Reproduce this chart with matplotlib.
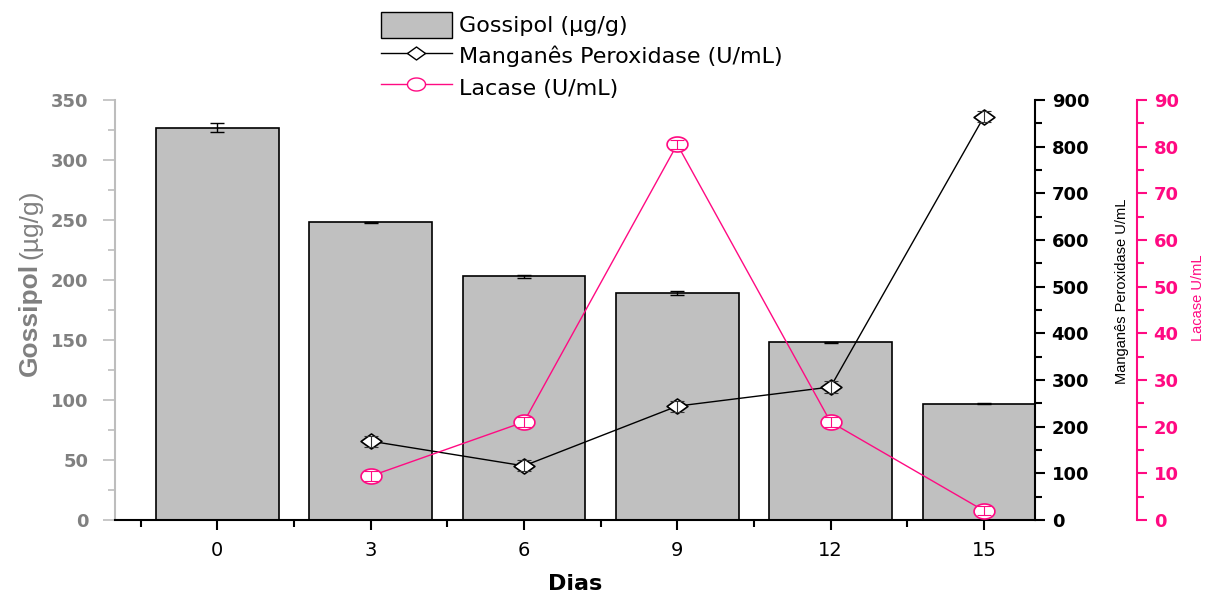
import matplotlib
matplotlib.use("Agg")
import matplotlib.pyplot as plt
from matplotlib.path import Path
from matplotlib.patches import Patch
from matplotlib.lines import Line2D
import numpy as np

# ---- data ----
dias = [0, 3, 6, 9, 12, 15]
gossipol = [327, 248, 203, 189, 148, 97]
gossipol_err = [3.5, 0.6, 1.0, 1.8, 0.6, 0.6]

dias_enz = [3, 6, 9, 12, 15]
mnp = [169, 116, 244, 285, 864]
mnp_err = [12, 12, 12, 12, 12]
lacase = [9.4, 21.0, 80.5, 21.0, 2.0]
lacase_err = [1.0, 1.0, 1.0, 1.0, 1.0]

x_ticks = [0, 3, 6, 9, 12, 15]
x_label = "Dias"
legend_labels = ["Gossipol (µg/g)", "Manganês Peroxidase (U/mL)", "Lacase (U/mL)"]

PINK = "#FF0A82"
GRAY_TXT = "#808080"
BAR = "#C0C0C0"
NARROW = ["Liberation Sans Narrow", "Liberation Sans"]

# wide, flat markers
diamond = Path([(-1, 0), (0, 0.72), (1, 0), (0, -0.72), (-1, 0)],
               [Path.MOVETO, Path.LINETO, Path.LINETO, Path.LINETO, Path.CLOSEPOLY])
t = np.linspace(0, 2 * np.pi, 60)
ellipse = Path(np.column_stack([np.cos(t), 0.72 * np.sin(t)]))

fig = plt.figure(figsize=(12.06, 5.92), dpi=100)
ax = fig.add_axes([115 / 1206, 72 / 592, 920 / 1206, 420 / 592])

# gossipol bars
ax.bar(dias, gossipol, width=2.4, color=BAR, edgecolor="black", linewidth=1.2, zorder=1)
ax.errorbar(dias, gossipol, yerr=gossipol_err, fmt="none", ecolor="black",
            elinewidth=1, capsize=5, capthick=1, zorder=2)
ax.set_xlim(-2, 16)
ax.set_ylim(0, 350)
ax.set_xticks(x_ticks)
ax.set_xticks(np.arange(-1.5, 16, 3), minor=True)
ax.set_yticks(np.arange(0, 351, 50))
ax.set_yticks(np.arange(25, 350, 50), minor=True)
for s in ["top", "right"]:
    ax.spines[s].set_visible(False)
ax.spines["left"].set_color("#BDBDBD")
ax.spines["left"].set_linewidth(1.5)
ax.spines["bottom"].set_linewidth(1.5)
ax.tick_params(axis="y", which="both", colors="#BDBDBD", width=1.2, direction="out",
               labelcolor=GRAY_TXT)
ax.tick_params(axis="y", which="major", length=9, pad=10)
ax.tick_params(axis="y", which="minor", length=5)
ax.tick_params(axis="x", which="both", width=1.5, direction="out")
ax.tick_params(axis="x", which="major", length=7, pad=8)
ax.tick_params(axis="x", which="minor", length=5)
for lab in ax.get_yticklabels():
    lab.set_fontfamily("DejaVu Sans")
    lab.set_fontweight("bold")
    lab.set_fontsize(13)
for lab in ax.get_xticklabels():
    lab.set_fontfamily("DejaVu Sans")
    lab.set_fontsize(14)
ax.set_xlabel(x_label, fontfamily="DejaVu Sans", fontweight="bold", fontsize=16, labelpad=10)

# left y label: bold name + normal unit
t1 = fig.text(30 / 1206, 1 - 376 / 592, "Gossipol", rotation=90, ha="center", va="bottom",
              color=GRAY_TXT, fontfamily="Liberation Sans", fontweight="bold", fontsize=19)
ax.annotate("(µg/g)", xy=(0.5, 1.0), xycoords=t1, xytext=(0, 3), textcoords="offset points",
            rotation=90, ha="center", va="bottom", color=GRAY_TXT,
            fontfamily="Liberation Sans", fontsize=19, annotation_clip=False)

# manganese peroxidase axis
ax2 = ax.twinx()
ax2.set_ylim(0, 900)
ax2.set_yticks(np.arange(0, 901, 100))
ax2.set_yticks(np.arange(50, 900, 100), minor=True)
for s in ["top", "left", "bottom"]:
    ax2.spines[s].set_visible(False)
ax2.spines["right"].set_linewidth(1.5)
ax2.tick_params(axis="y", which="both", width=1.5, direction="out")
ax2.tick_params(axis="y", which="major", length=7, pad=5)
ax2.tick_params(axis="y", which="minor", length=5)
for lab in ax2.get_yticklabels():
    lab.set_fontfamily("DejaVu Sans")
    lab.set_fontweight("bold")
    lab.set_fontsize(13)
ax2.plot(dias_enz, mnp, color="black", linewidth=1, marker=diamond, markersize=15,
         markerfacecolor="white", markeredgecolor="black", markeredgewidth=1.2, zorder=3)
ax2.errorbar(dias_enz, mnp, yerr=mnp_err, fmt="none", ecolor="#333333",
             elinewidth=0.8, capsize=5, capthick=0.8, zorder=4)
fig.text(1122 / 1206, 1 - 291 / 592, "Manganês Peroxidase U/mL", rotation=90,
         ha="center", va="center", fontfamily=NARROW, fontsize=10.5, color="black")

# lacase axis
ax3 = ax.twinx()
ax3.spines["right"].set_position(("axes", (1137 - 115) / 920))
ax3.set_ylim(0, 90)
ax3.set_yticks(np.arange(0, 91, 10))
ax3.set_yticks(np.arange(5, 90, 10), minor=True)
for s in ["top", "left", "bottom"]:
    ax3.spines[s].set_visible(False)
ax3.spines["right"].set_color(PINK)
ax3.spines["right"].set_linewidth(1.5)
ax3.tick_params(axis="y", which="both", colors=PINK, width=1.5, direction="out")
ax3.tick_params(axis="y", which="major", length=7, pad=5)
ax3.tick_params(axis="y", which="minor", length=5)
for lab in ax3.get_yticklabels():
    lab.set_fontfamily("DejaVu Sans")
    lab.set_fontweight("bold")
    lab.set_fontsize(13)
ax3.plot(dias_enz, lacase, color=PINK, linewidth=1, marker=ellipse, markersize=15,
         markerfacecolor="white", markeredgecolor=PINK, markeredgewidth=1.2, zorder=3)
ax3.errorbar(dias_enz, lacase, yerr=lacase_err, fmt="none", ecolor=PINK,
             elinewidth=0.8, capsize=5, capthick=0.8, zorder=4)
fig.text(1198 / 1206, 1 - 298 / 592, "Lacase U/mL", rotation=90,
         ha="center", va="center", fontfamily=NARROW, fontsize=10.5, color=PINK)

# legend above the plot
handles = [
    Patch(facecolor=BAR, edgecolor="black", linewidth=1),
    Line2D([], [], color="black", linewidth=1, marker=diamond, markersize=13,
           markerfacecolor="white", markeredgecolor="black"),
    Line2D([], [], color=PINK, linewidth=1, marker=ellipse, markersize=13,
           markerfacecolor="white", markeredgecolor=PINK),
]
fig.legend(handles, legend_labels, loc="upper left", bbox_to_anchor=(372 / 1206, 1 - 3 / 592),
           frameon=False, prop={"family": "DejaVu Sans", "size": 16},
           handlelength=3.2, handleheight=1.4, handletextpad=0.3, labelspacing=0.25,
           borderaxespad=0)

fig.savefig("out.png", dpi=100)
